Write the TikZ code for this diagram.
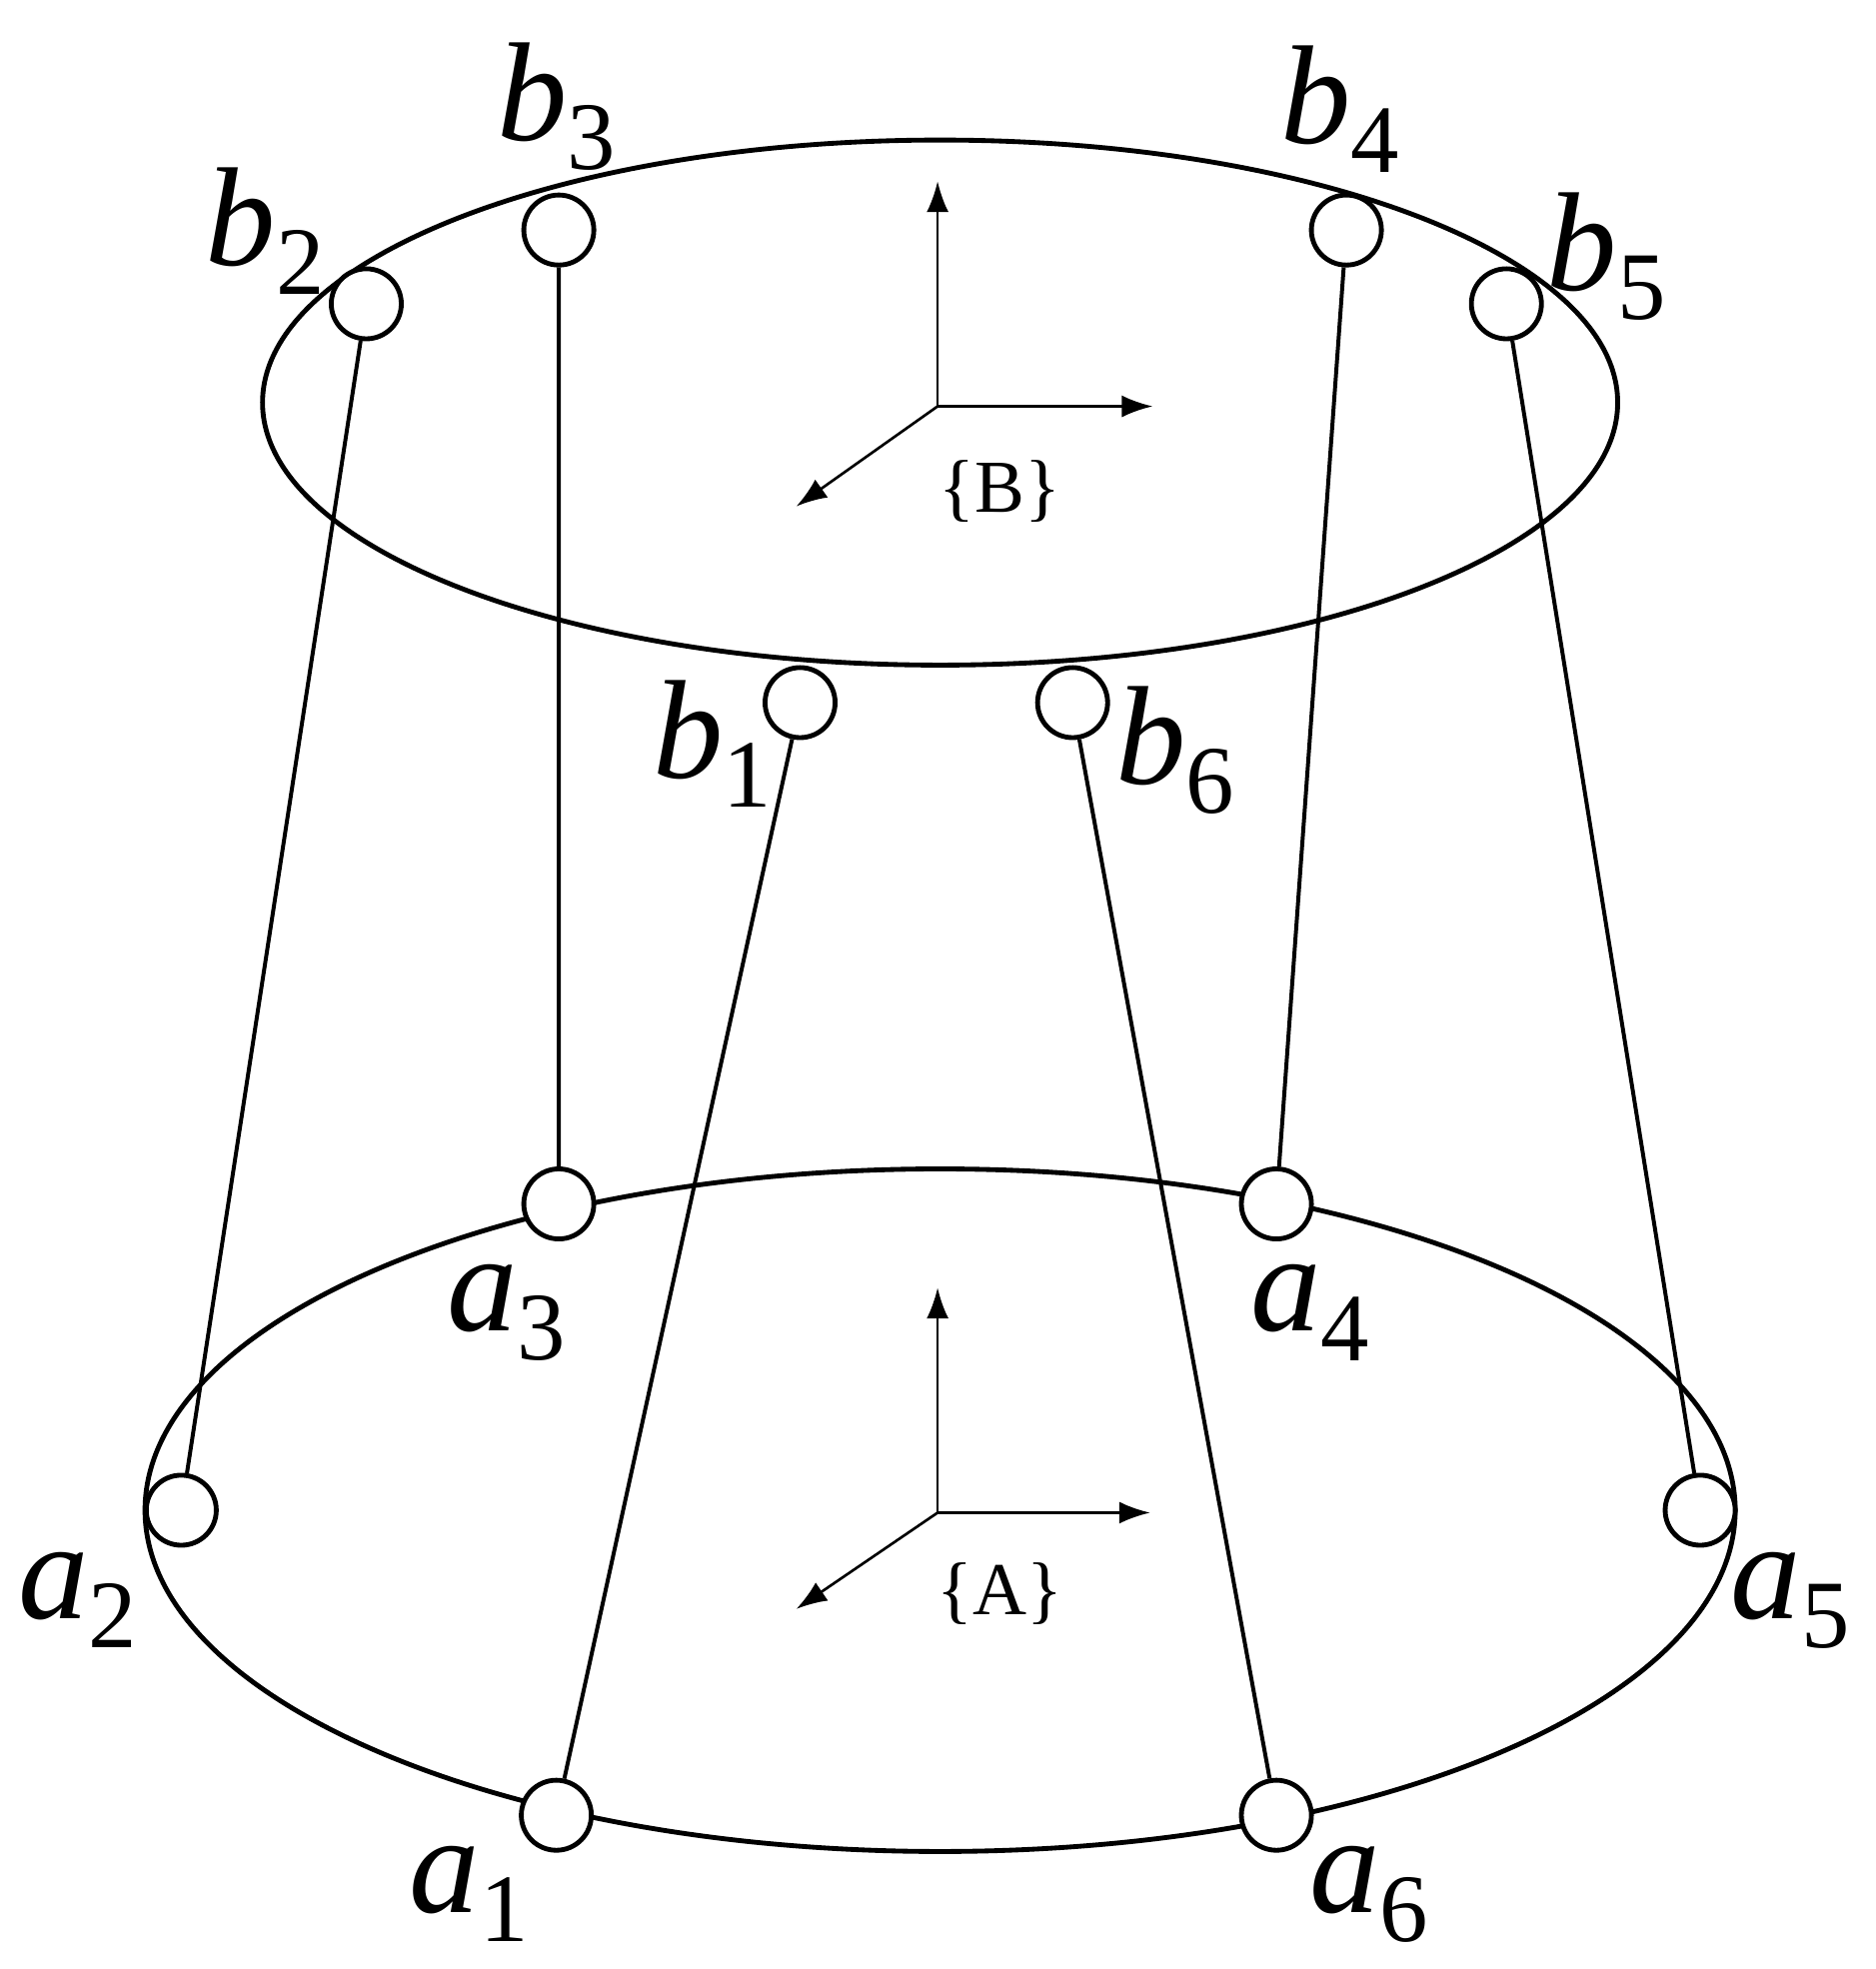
\documentclass[tikz,border=0pt]{standalone}
\usepackage{fontspec}
\usetikzlibrary{arrows.meta}
\setmainfont{Liberation Serif}
\newcommand{\jlab}[2]{\textit{#1}\raisebox{-0.45ex}{\fontsize{22}{24}\selectfont #2}}
\begin{document}
\begin{tikzpicture}[x=0.01cm,y=-0.01cm,
  joint/.style={circle,draw,fill=white,line width=1.1pt,minimum size=0.56cm,inner sep=0pt},
  lbl/.style={font=\fontsize{32}{34}\selectfont},
  leg/.style={line width=0.9pt},
  ax/.style={line width=0.6pt,-{Latex[length=7pt,width=5pt]}},
  frm/.style={font=\fontsize{17}{19}\selectfont}]
\useasboundingbox (0,0) rectangle (1500,1575);
\draw[line width=1.1pt] (752,322) ellipse [x radius=542,y radius=-210];
\draw[line width=1.1pt] (752,1208) ellipse [x radius=636,y radius=-273];
% joints
\node[joint] (b3) at (447,184) {};
\node[joint] (b2) at (293,243) {};
\node[joint] (b4) at (1077,184) {};
\node[joint] (b5) at (1205,243) {};
\node[joint] (b1) at (640,562) {};
\node[joint] (b6) at (858,562) {};
\node[joint] (a3) at (447,963) {};
\node[joint] (a4) at (1021,963) {};
\node[joint] (a2) at (145,1208) {};
\node[joint] (a5) at (1360,1208) {};
\node[joint] (a1) at (445,1452) {};
\node[joint] (a6) at (1021,1452) {};
\draw[leg] (b2)--(a2) (b3)--(a3) (b1)--(a1) (b6)--(a6) (b4)--(a4) (b5)--(a5);
% frames
\coordinate (oB) at (750,325);
\coordinate (oA) at (750,1210);
\draw[ax] (oB)--(750,145);
\draw[ax] (oB)--(922,325);
\draw[ax] (oB)--(637,405);
\draw[ax] (oA)--(750,1030);
\draw[ax] (oA)--(920,1210);
\draw[ax] (oA)--(637,1287);
\node[frm] (B) at (800,393) {\{B\}};
\node[frm] (A) at (800,1275) {\{A\}};
% labels
\node[lbl] at (445,85) {\jlab{b}{3}};
\node[lbl] at (212,185) {\jlab{b}{2}};
\node[lbl] at (1072,87) {\jlab{b}{4}};
\node[lbl] at (1285,205) {\jlab{b}{5}};
\node[lbl] at (570,595) {\jlab{b}{1}};
\node[lbl] at (940,600) {\jlab{b}{6}};
\node[lbl] at (405,1050) {\jlab{a}{3}};
\node[lbl] at (1048,1050) {\jlab{a}{4}};
\node[lbl] at (62,1280) {\jlab{a}{2}};
\node[lbl] at (1432,1280) {\jlab{a}{5}};
\node[lbl] at (375,1515) {\jlab{a}{1}};
\node[lbl] at (1095,1515) {\jlab{a}{6}};
\end{tikzpicture}
\end{document}
